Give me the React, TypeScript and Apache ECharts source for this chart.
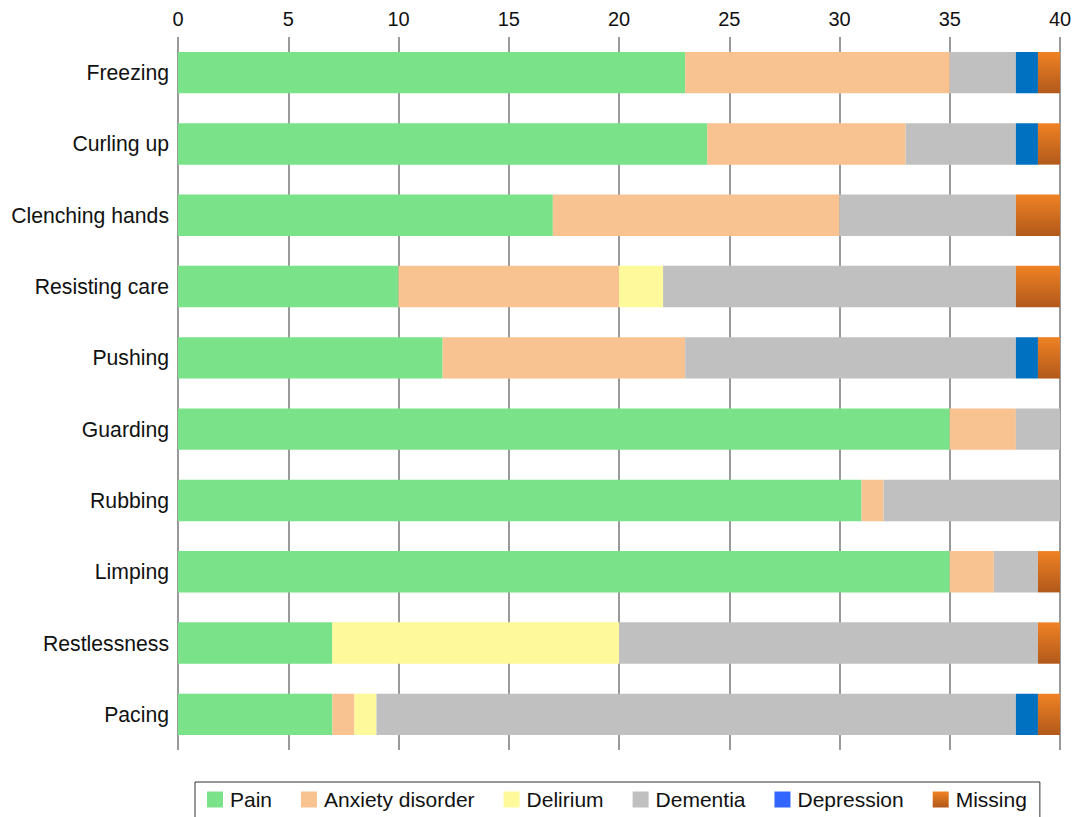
import React, { useEffect, useRef } from "react";
import * as echarts from "echarts";

const categories = [
  "Freezing",
  "Curling up",
  "Clenching hands",
  "Resisting care",
  "Pushing",
  "Guarding",
  "Rubbing",
  "Limping",
  "Restlessness",
  "Pacing",
];

const pain = [23, 24, 17, 10, 12, 35, 31, 35, 7, 7];
const anxiety = [12, 9, 13, 10, 11, 3, 1, 2, 0, 1];
const delirium = [0, 0, 0, 2, 0, 0, 0, 0, 13, 1];
const dementia = [3, 5, 8, 16, 15, 2, 8, 2, 19, 29];
const depression = [1, 1, 0, 0, 1, 0, 0, 0, 0, 1];
const missing = [1, 1, 2, 2, 1, 0, 0, 1, 1, 1];

const xTicks = [0, 5, 10, 15, 20, 25, 30, 35, 40];

const FONT = "Liberation Sans, Arial, sans-serif";

export default function App() {
  const ref = useRef<HTMLDivElement>(null);

  useEffect(() => {
    if (!ref.current) return;
    const chart = echarts.init(ref.current, undefined, { renderer: "svg" });
    const missingGrad = new echarts.graphic.LinearGradient(0, 0, 0, 1, [
      { offset: 0, color: "#F08224" },
      { offset: 1, color: "#B1591B" },
    ]);
    const mk = (name: string, data: number[], color: any) => ({
      name,
      type: "bar",
      stack: "total",
      data,
      barCategoryGap: "42%",
      itemStyle: { color },
      emphasis: { disabled: true },
    });
    chart.setOption({
      animation: false,
      textStyle: { fontFamily: FONT },
      grid: { left: 178, right: 15, top: 37, bottom: 67, containLabel: false },
      xAxis: {
        type: "value",
        position: "top",
        min: 0,
        max: 40,
        interval: 5,
        axisLine: { show: false },
        axisTick: { show: false },
        axisLabel: {
          fontSize: 20,
          color: "#111",
          margin: 8,
          formatter: (v: number) => (xTicks.includes(v) ? String(v) : ""),
        },
        splitLine: { show: true, lineStyle: { color: "#9a9a9a", width: 2 } },
      },
      yAxis: {
        type: "category",
        inverse: true,
        data: categories,
        axisLine: { show: false },
        axisTick: { show: false },
        axisLabel: { fontSize: 21.2, color: "#111", margin: 9 },
      },
      legend: {
        top: 782,
        left: 195,
        padding: [7, 13, 20, 12],
        borderColor: "#333",
        borderWidth: 1,
        itemWidth: 16,
        itemHeight: 16,
        itemGap: 29,
        icon: "rect",
        textStyle: { fontSize: 21, color: "#111", fontFamily: FONT, padding: [0, 0, 0, 2] },
        data: [
          { name: "Pain" },
          { name: "Anxiety disorder" },
          { name: "Delirium" },
          { name: "Dementia" },
          { name: "Depression", itemStyle: { color: "#3366FF" } },
          { name: "Missing" },
        ],
      },
      series: [
        mk("Pain", pain, "#7AE38A"),
        mk("Anxiety disorder", anxiety, "#F8C291"),
        mk("Delirium", delirium, "#FEF99A"),
        mk("Dementia", dementia, "#C0C0C0"),
        mk("Depression", depression, "#0070C0"),
        mk("Missing", missing, missingGrad),
      ],
    });
    return () => chart.dispose();
  }, []);

  return (
    <div
      ref={ref}
      style={{ position: "absolute", left: 0, top: 0, width: 1075, height: 817 }}
    />
  );
}
